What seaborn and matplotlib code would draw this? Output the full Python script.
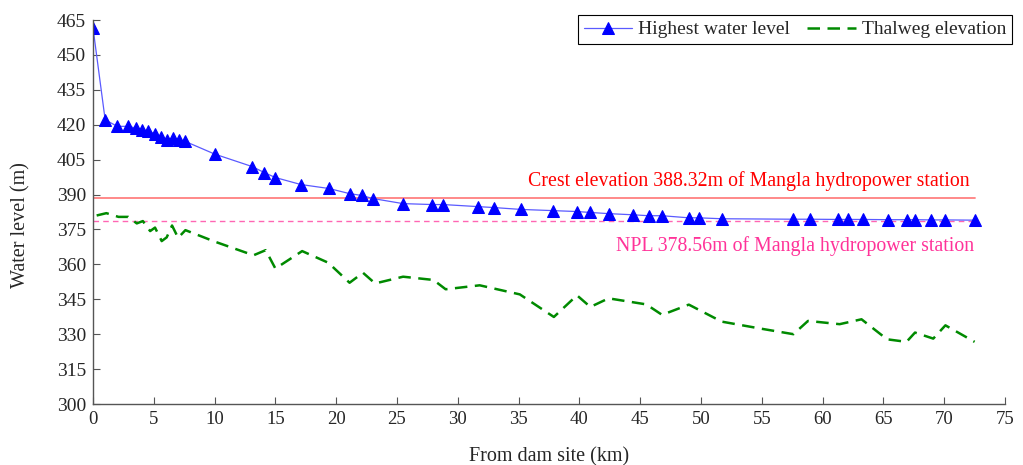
import matplotlib
matplotlib.use("Agg")
import matplotlib.pyplot as plt
import seaborn as sns
import pandas as pd

# Highest water level along the reservoir (distance from dam, km / elevation, m)
hwl_km = [0, 1.0, 2.0, 2.9, 3.5, 4.0, 4.5, 5.1, 5.6, 6.1, 6.6, 7.1, 7.6, 10.0,
          13.1, 14.1, 15.0, 17.1, 19.4, 21.1, 22.1, 23.0, 25.5, 27.9, 28.8,
          31.7, 33.0, 35.2, 37.8, 39.8, 40.9, 42.4, 44.4, 45.7, 46.8, 49.0,
          49.8, 51.7, 57.6, 59.0, 61.3, 62.1, 63.3, 65.4, 66.9, 67.6, 68.9,
          70.1, 72.5]
hwl_level = [461.6, 422.1, 419.3, 419.3, 418.6, 417.9, 417.4, 416.0, 414.6,
             413.6, 414.3, 413.6, 412.8, 407.4, 402.0, 399.4, 397.3, 394.3,
             392.6, 390.4, 389.6, 388.3, 386.1, 385.7, 385.7, 384.8, 384.4,
             383.6, 383.1, 382.7, 382.3, 381.8, 381.3, 380.9, 380.9, 380.0,
             380.0, 379.6, 379.4, 379.4, 379.3, 379.3, 379.3, 379.2, 379.2,
             379.2, 379.1, 379.1, 379.0]

# Thalweg (river bed) elevation
thalweg_km = [0.3, 1.1, 2.1, 2.9, 3.6, 4.1, 4.7, 5.1, 5.65, 6.06, 6.5, 7.0,
              7.6, 10.0, 13.2, 14.2, 15.0, 17.2, 19.35, 21.1, 22.2, 23.2, 25.5,
              28.0, 29.0, 31.8, 35.1, 37.9, 39.8, 40.9, 42.4, 45.5, 46.8, 49.0,
              51.7, 54.9, 57.6, 58.8, 61.4, 63.2, 65.3, 66.9, 67.6, 69.1, 70.1,
              72.5]
thalweg_level = [381.0, 382.0, 380.4, 380.4, 377.6, 378.6, 374.3, 375.8, 370.0,
                 371.6, 376.7, 371.4, 374.7, 369.8, 363.9, 366.1, 358.2, 365.7,
                 360.7, 352.1, 356.4, 351.8, 354.7, 353.3, 349.3, 351.0, 347.1,
                 337.4, 346.7, 341.7, 345.4, 342.8, 338.3, 342.7, 335.4, 332.4,
                 330.0, 335.7, 334.3, 336.4, 327.8, 326.7, 330.7, 328.1, 333.8,
                 326.7]

crest_level = 388.32
npl_level = 378.56
reach_km = [0, 72.5]

x_ticks = list(range(0, 76, 5))
y_ticks = list(range(300, 466, 15))

sns.set_style("ticks")
plt.rcParams["font.family"] = ["Liberation Serif", "DejaVu Serif"]

fig = plt.figure(figsize=(10.23, 4.65), dpi=100)
ax = fig.add_axes([93 / 1023, 1 - 404 / 465, 912 / 1023, 384 / 465])

hwl = pd.DataFrame({"km": hwl_km, "level": hwl_level})
thal = pd.DataFrame({"km": thalweg_km, "level": thalweg_level})
crest = pd.DataFrame({"km": reach_km, "level": [crest_level] * 2})
npl = pd.DataFrame({"km": reach_km, "level": [npl_level] * 2})

sns.lineplot(data=crest, x="km", y="level", ax=ax, color="#ff8080",
             linewidth=1.3, legend=False)
sns.lineplot(data=npl, x="km", y="level", ax=ax, color="#ff66b3",
             linewidth=1.0, legend=False)
ax.lines[-1].set_dashes((4, 3))

sns.lineplot(data=hwl, x="km", y="level", ax=ax, color="#5a5aff",
             linewidth=0.9, marker="^", markersize=8,
             markerfacecolor="#0000ff", markeredgecolor="#0000ff",
             label="Highest water level", sort=False)
sns.lineplot(data=thal, x="km", y="level", ax=ax, color="#008a00",
             linewidth=1.8, label="Thalweg elevation", sort=False)
ax.lines[-1].set_dashes((5, 3))

ax.text(72.1, 395.6, f"Crest elevation {crest_level:.2f}m of Mangla hydropower station",
        color="#ff0000", fontsize=14.3, ha="right", va="center")
ax.text(72.5, 367.7, f"NPL {npl_level:.2f}m of Mangla hydropower station",
        color="#ff3399", fontsize=14.3, ha="right", va="center")

ax.set_xlim(0, 75)
ax.set_ylim(300, 465)
ax.set_xticks(x_ticks)
ax.set_yticks(y_ticks)
ax.tick_params(direction="in", length=5, width=0.8, color="#555555")
ax.tick_params(axis="x", labelsize=13.5, pad=5)
ax.tick_params(axis="y", labelsize=14, pad=5)
ax.set_xlabel("From dam site (km)", fontsize=14.5)
ax.set_ylabel("Water level (m)", fontsize=14.5)
ax.xaxis.set_label_coords(0.5, -0.112)
ax.yaxis.set_label_coords(-0.068, 0.466)
sns.despine(ax=ax)
for side in ("left", "bottom"):
    ax.spines[side].set_color("#555555")
    ax.spines[side].set_linewidth(1.0)

leg = ax.legend(loc="upper right", bbox_to_anchor=(1012 / 1023, 1 - 15 / 465),
                bbox_transform=fig.transFigure, ncol=2, fontsize=14,
                frameon=True, fancybox=False, framealpha=1, edgecolor="black",
                borderpad=0.3, handlelength=2.5, columnspacing=0.9,
                handletextpad=0.3, borderaxespad=0)
leg.get_frame().set_linewidth(0.8)

fig.savefig("out.png", dpi=100)
